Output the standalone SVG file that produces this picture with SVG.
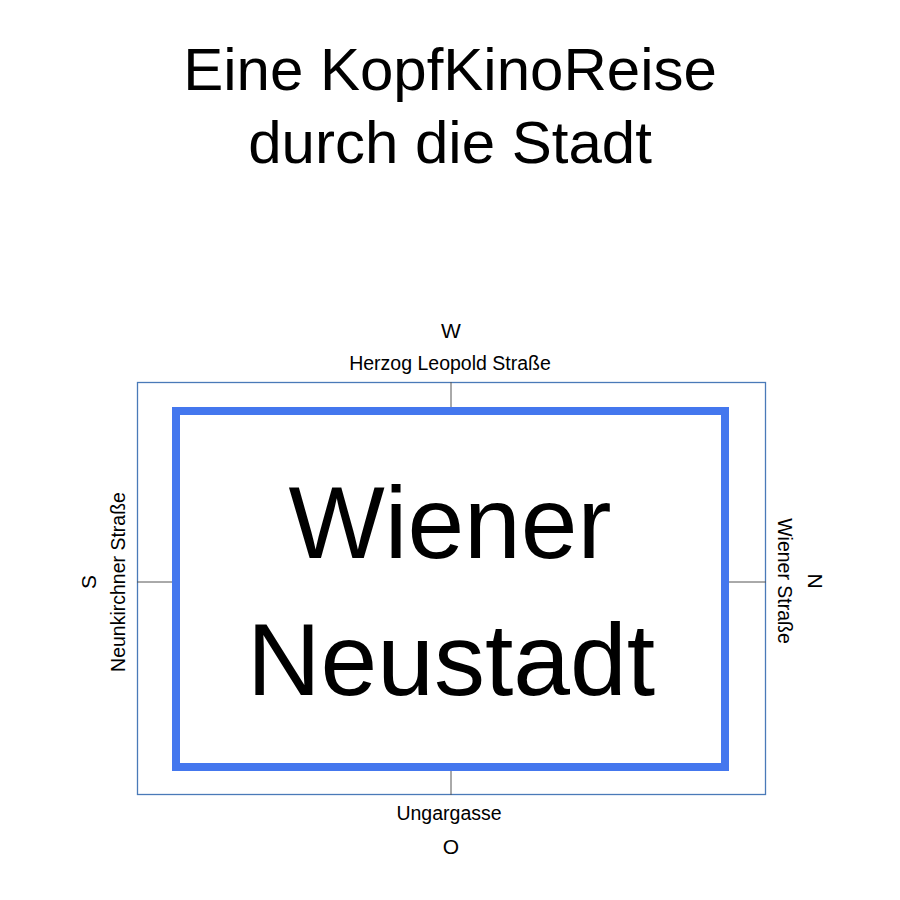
<svg xmlns="http://www.w3.org/2000/svg" width="900" height="900" viewBox="0 0 900 900">
<style>
text{font-family:"Liberation Sans",Arial,sans-serif;fill:#000;text-anchor:middle}
.t{font-size:60px}
.big{font-size:102px}
.lab{font-size:19.5px}
.dir{font-size:21px}
.tick{stroke:#555;stroke-width:1}
</style>
<rect width="900" height="900" fill="#fff"/>
<g id="title">
<text class="t" x="450" y="90">Eine KopfKinoReise</text>
<text class="t" x="450" y="163">durch die Stadt</text>
</g>
<g id="frame">
<rect x="137.5" y="382.5" width="628" height="412" fill="none" stroke="#4a7ab8" stroke-width="1.3"/>
</g>
<g id="connectors">
<line class="tick" x1="451" y1="382" x2="451" y2="408"/>
<line class="tick" x1="451" y1="770" x2="451" y2="795"/>
<line class="tick" x1="137" y1="582" x2="173" y2="582"/>
<line class="tick" x1="729" y1="582" x2="766" y2="582"/>
</g>
<g id="city">
<rect x="176" y="411" width="549" height="356" fill="#fff" stroke="#4477ee" stroke-width="8"/>
<text class="big" x="450" y="558">Wiener</text>
<text class="big" x="451" y="695">Neustadt</text>
</g>
<g id="north-west">
<text class="dir" x="451" y="338">W</text>
<text class="lab" x="450" y="370">Herzog Leopold Straße</text>
</g>
<g id="east">
<text class="lab" x="449" y="820">Ungargasse</text>
<text class="dir" x="451" y="854">O</text>
</g>
<g id="south">
<text class="dir" transform="translate(96,582) rotate(-90)">S</text>
<text class="lab" transform="translate(125,582) rotate(-90)">Neunkirchner Straße</text>
</g>
<g id="north">
<text class="dir" transform="translate(808,581) rotate(90)">N</text>
<text class="lab" transform="translate(778,581) rotate(90)">Wiener Straße</text>
</g>
</svg>
